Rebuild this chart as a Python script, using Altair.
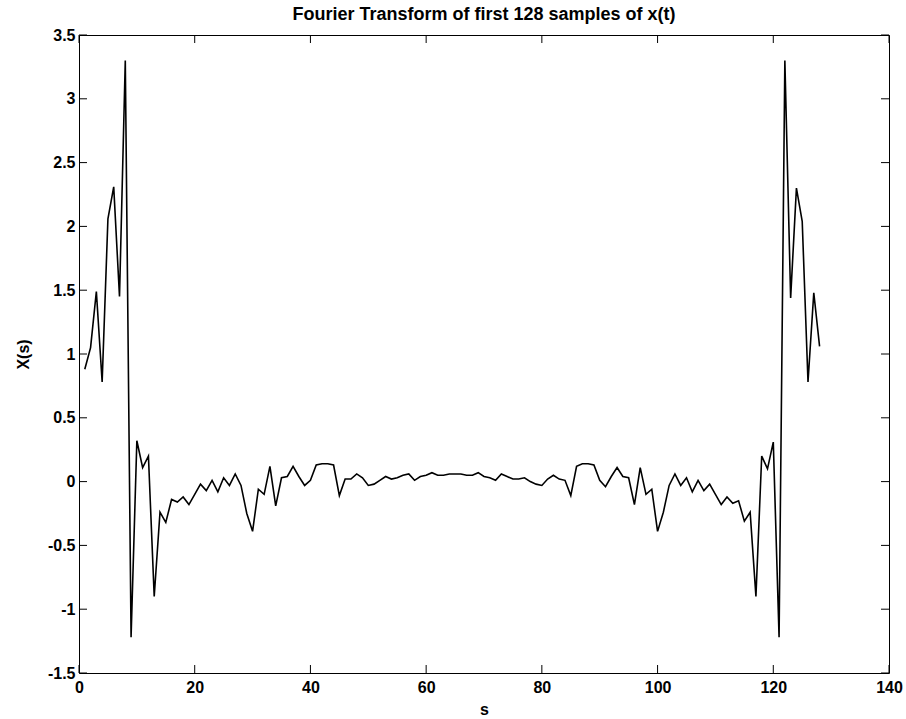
import altair as alt
import pandas as pd

# ---- data ----
s_values = list(range(1, 129))
x_values = [
    0.88, 1.05, 1.49, 0.78, 2.06, 2.31, 1.45, 3.30, -1.22, 0.32,
    0.11, 0.20, -0.90, -0.24, -0.32, -0.14, -0.16, -0.12, -0.18, -0.10,
    -0.02, -0.07, 0.01, -0.08, 0.03, -0.03, 0.06, -0.03, -0.25, -0.39,
    -0.06, -0.10, 0.12, -0.19, 0.03, 0.04, 0.12, 0.04, -0.03, 0.01,
    0.13, 0.14, 0.14, 0.13, -0.11, 0.02, 0.02, 0.06, 0.03, -0.03,
    -0.02, 0.01, 0.04, 0.02, 0.03, 0.05, 0.06, 0.01, 0.04, 0.05,
    0.07, 0.05, 0.05, 0.06, 0.06, 0.06, 0.05, 0.05, 0.07, 0.04,
    0.03, 0.01, 0.06, 0.04, 0.02, 0.02, 0.03, 0.00, -0.02, -0.03,
    0.02, 0.05, 0.02, 0.01, -0.11, 0.12, 0.14, 0.14, 0.13, 0.01,
    -0.04, 0.04, 0.11, 0.04, 0.03, -0.18, 0.11, -0.10, -0.06, -0.39,
    -0.24, -0.03, 0.06, -0.03, 0.03, -0.08, 0.01, -0.07, -0.02, -0.10,
    -0.18, -0.12, -0.17, -0.15, -0.31, -0.24, -0.90, 0.20, 0.10, 0.31,
    -1.22, 3.30, 1.44, 2.30, 2.04, 0.78, 1.48, 1.06,
]
x_ticks = [0, 20, 40, 60, 80, 100, 120, 140]
y_ticks = [-1.5, -1, -0.5, 0, 0.5, 1, 1.5, 2, 2.5, 3, 3.5]

title_text = "Fourier Transform of first 128 samples of x(t)"
x_title = "s"
y_title = "X(s)"

# ---- layout / style ----
FONT = "Liberation Sans"
W, H = 810, 638
TICK = 8
LBL = 16

df = pd.DataFrame({"s": s_values, "X": x_values})
xt = pd.DataFrame({"s": x_ticks})
yt = pd.DataFrame({"X": y_ticks})

xscale = alt.Scale(domain=[0, 140], nice=False, zero=False)
yscale = alt.Scale(domain=[-1.5, 3.5], nice=False, zero=False)

x_axis = alt.Axis(values=x_ticks, title=x_title, ticks=False, grid=False,
                  domain=False, labelFlush=False, labelOverlap=False,
                  labelPadding=6, titlePadding=6,
                  labelExpr="toString(datum.value)")
y_axis = alt.Axis(values=y_ticks, title=y_title, ticks=False, grid=False,
                  domain=False, labelFlush=False, labelOverlap=False,
                  labelPadding=4, titlePadding=16,
                  labelExpr="toString(datum.value)")

line = alt.Chart(df).mark_line(color="black", strokeWidth=1.6).encode(
    x=alt.X("s:Q", scale=xscale, axis=x_axis),
    y=alt.Y("X:Q", scale=yscale, axis=y_axis),
)

bottom = alt.Chart(xt).mark_rule(color="black", strokeWidth=1).encode(
    x=alt.X("s:Q", scale=xscale, axis=x_axis),
    y=alt.value(H), y2=alt.value(H - TICK))
top = alt.Chart(xt).mark_rule(color="black", strokeWidth=1).encode(
    x=alt.X("s:Q", scale=xscale, axis=x_axis),
    y=alt.value(0), y2=alt.value(TICK))
left = alt.Chart(yt).mark_rule(color="black", strokeWidth=1).encode(
    y=alt.Y("X:Q", scale=yscale, axis=y_axis),
    x=alt.value(0), x2=alt.value(TICK))
right = alt.Chart(yt).mark_rule(color="black", strokeWidth=1).encode(
    y=alt.Y("X:Q", scale=yscale, axis=y_axis),
    x=alt.value(W), x2=alt.value(W - TICK))

chart = alt.layer(line, bottom, top, left, right).properties(
    width=W, height=H,
    title=alt.TitleParams(title_text, font=FONT, fontSize=18, fontWeight="bold",
                          anchor="middle", offset=3, color="black"),
    autosize=alt.AutoSizeParams(type="none"),
    padding={"left": 79, "top": 35, "right": 17, "bottom": 46},
    background="white",
).configure_view(stroke="black", strokeWidth=1).configure_axis(
    labelFont=FONT, labelFontSize=LBL, labelFontWeight="bold", labelColor="black",
    titleFont=FONT, titleFontSize=LBL, titleFontWeight="bold", titleColor="black",
)

chart.save("out.html", embed_options={"renderer": "svg", "actions": False})
